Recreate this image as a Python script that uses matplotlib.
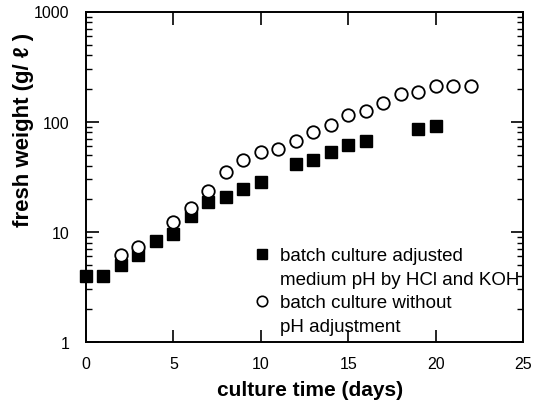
import matplotlib
matplotlib.use("Agg")
import matplotlib.pyplot as plt
from matplotlib.lines import Line2D
from matplotlib.ticker import LogLocator, FixedLocator, NullFormatter

plt.rcParams['font.family'] = ['Liberation Sans', 'DejaVu Sans']

# Data
days_adj = [0, 1, 2, 3, 4, 5, 6, 7, 8, 9, 10, 12, 13, 14, 15, 16, 19, 20]
fw_adj = [4.0, 4.0, 5.0, 6.1, 8.2, 9.6, 13.9, 18.8, 20.5, 24.5, 28.6,
          41, 45, 53, 61, 67, 85, 92]
days_noadj = [2, 3, 5, 6, 7, 8, 9, 10, 11, 12, 13, 14, 15, 16, 17, 18, 19, 20, 21, 22]
fw_noadj = [6.2, 7.3, 12.3, 16.4, 23.7, 35, 45, 53, 57, 67, 81, 94, 114, 126,
            149, 180, 185, 212, 212, 212]
x_ticks = [0, 5, 10, 15, 20, 25]
y_ticks = [1, 10, 100, 1000]
y_ticklabels = ['1', '10', '100', '1000']
label_adj = ['batch culture adjusted', 'medium pH by HCl and KOH']
label_noadj = ['batch culture without', 'pH adjustment']

fig = plt.figure(figsize=(5.37, 4.02), dpi=100)
W, H = 537, 402
left, right, top, bottom = 86, 523, 12.5, 343
ax = fig.add_axes([left / W, 1 - bottom / H, (right - left) / W, (bottom - top) / H])

ax.plot(days_adj, fw_adj, linestyle='none', marker='s', markersize=9,
        color='black', clip_on=False, zorder=3)
ax.plot(days_noadj, fw_noadj, linestyle='none', marker='o', markersize=9,
        markerfacecolor='white', markeredgecolor='black', markeredgewidth=1.3,
        clip_on=False, zorder=3)

ax.set_yscale('log')
ax.set_xlim(0, 25)
ax.set_ylim(1, 1000)
ax.xaxis.set_major_locator(FixedLocator(x_ticks))
ax.set_xticklabels([str(t) for t in x_ticks])
ax.yaxis.set_major_locator(FixedLocator(y_ticks))
ax.set_yticklabels(y_ticklabels)
ax.yaxis.set_minor_locator(LogLocator(base=10, subs=range(2, 10)))
ax.yaxis.set_minor_formatter(NullFormatter())

ax.tick_params(axis='both', which='major', direction='in', length=9, width=1.2,
               top=True, right=True, labelsize=11.5, color='black')
ax.tick_params(axis='y', which='major', pad=12)
ax.tick_params(axis='x', which='major', pad=10)
ax.tick_params(axis='y', which='minor', direction='in', length=4.5, width=1.0,
               right=True, left=True)
for s in ax.spines.values():
    s.set_linewidth(1.4)

ax.set_xlabel('culture time (days)', fontsize=15, fontweight='bold')
ax.xaxis.set_label_coords((310.5 - left) / (right - left), (bottom - 381) / (bottom - top))
ax.set_ylabel('fresh weight (g/ \u2113 )', fontsize=16, fontweight='bold')
ax.yaxis.set_label_coords((34 - left) / (right - left), (bottom - 130) / (bottom - top))

handles = [
    Line2D([], [], linestyle='none', marker='s', markersize=7.5, color='black'),
    Line2D([], [], linestyle='none', marker='none'),
    Line2D([], [], linestyle='none', marker='o', markersize=7.5,
           markerfacecolor='white', markeredgecolor='black', markeredgewidth=1.2),
    Line2D([], [], linestyle='none', marker='none'),
]
labels = [label_adj[0], label_adj[1], label_noadj[0], label_noadj[1]]
leg = ax.legend(handles, labels, loc='upper left',
                bbox_to_anchor=((254 - left) / (right - left), (bottom - 248) / (bottom - top)),
                frameon=False, fontsize=13.5, handlelength=0.8, handletextpad=0.6,
                labelspacing=0.35, borderpad=0, borderaxespad=0)

fig.savefig('out.png', dpi=100)
